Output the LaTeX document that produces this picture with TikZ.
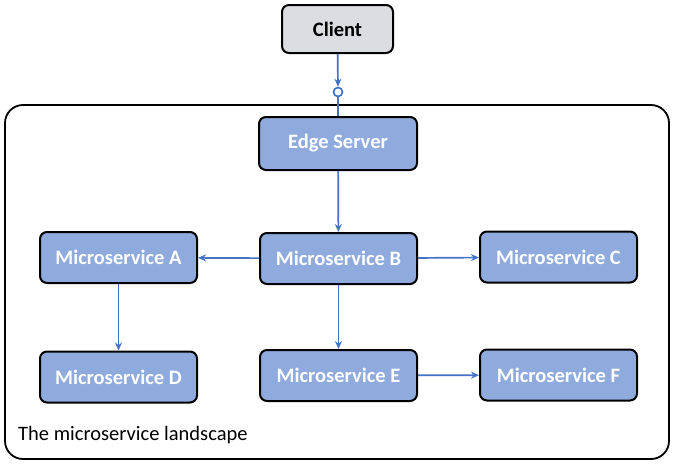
\documentclass[tikz,border=0pt]{standalone}
\usepackage{fontspec}
\setmainfont{Carlito}
\usetikzlibrary{arrows.meta}
\definecolor{svcblue}{HTML}{8FAADC}
\definecolor{linkblue}{HTML}{4472C4}
\definecolor{clientgray}{HTML}{DCDDE1}

\begin{document}
\begin{tikzpicture}[x=1pt,y=-1pt,
		svc/.style={draw=black, line width=2pt, rounded corners=7pt, fill=svcblue, text=white,
			font=\fontsize{20.5}{24}\selectfont\bfseries, minimum width=157pt, minimum height=51pt, inner sep=0pt},
		link/.style={draw=linkblue, line width=1.7pt, -{Stealth[length=8pt,width=7pt]}},
		wire/.style={draw=linkblue, line width=1.7pt}]
		%%%%% START %%%%%
		\useasboundingbox (0, 0) rectangle (676, 466);
		
		\draw[line width=1.8pt, rounded corners=18pt] (5, 105) rectangle (669, 459);
		\node[anchor=base west, inner sep=0pt, font=\fontsize{20.5}{24}\selectfont] (title) at (18, 440) {The microservice landscape};
		
		\node[svc, fill=clientgray, text=black, minimum width=111pt, minimum height=48pt] (client) at (337.5, 29) {Client};
		\node[circle, draw=linkblue, fill=white, line width=1.7pt, minimum size=9pt, inner sep=0pt] (plug) at (338, 92) {};
		\node[svc, minimum width=158pt, minimum height=53pt] (edge) at (338, 143.5) {Edge Server};
		
		\node[svc] (msA) at (118.5, 257.5) {Microservice A};
		\node[svc] (msB) at (338.5, 258.5) {Microservice B};
		\node[svc] (msC) at (558.5, 257) {Microservice C};
		\node[svc] (msD) at (118.5, 377) {Microservice D};
		\node[svc] (msE) at (338.5, 375.5) {Microservice E};
		\node[svc] (msF) at (558.5, 375) {Microservice F};
		
		\draw[link] (client) -- (plug);
		\draw[wire] (plug) -- (edge);
		\draw[link] (edge) -- (msB);
		\draw[link] (msB) -- (msA);
		\draw[link] (msB) -- (msC);
		\draw[link] (msB) -- (msE);
		\draw[link] (msA) -- (msD);
		\draw[link] (msE) -- (msF);
		%%%%% END %%%%%
	\end{tikzpicture}
\end{document}
